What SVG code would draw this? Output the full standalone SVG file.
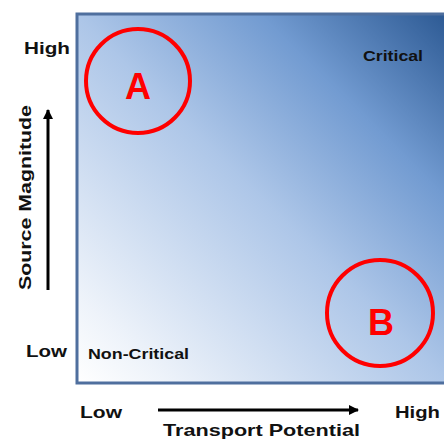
<svg xmlns="http://www.w3.org/2000/svg" width="444" height="439" viewBox="0 0 444 439">
<defs>
<linearGradient id="bg" gradientUnits="userSpaceOnUse" x1="78" y1="383" x2="444" y2="13">
<stop offset="0" stop-color="#ffffff"/>
<stop offset="0.12" stop-color="#eef3fa"/>
<stop offset="0.5" stop-color="#adc6e8"/>
<stop offset="0.75" stop-color="#729bd1"/>
<stop offset="1" stop-color="#2d5a94"/>
</linearGradient>
<marker id="ah" viewBox="0 0 10 10" refX="9" refY="5" markerWidth="10" markerHeight="10" markerUnits="userSpaceOnUse" orient="auto">
<path d="M0,0 L10,5 L0,10 z" fill="#000"/>
</marker>
<style>
.lbl{font-family:"Liberation Sans",Arial,sans-serif;font-weight:bold;fill:#111;}
.big{font-size:17px;}
.sm{font-size:14px;}
.ring{fill:none;stroke:#ff0000;stroke-width:4;}
.letter{font-family:"Liberation Sans",Arial,sans-serif;font-weight:bold;font-size:36px;fill:#ff0000;text-anchor:middle;}
.axis{stroke:#000;stroke-width:3;fill:none;}
</style>
</defs>
<rect width="444" height="439" fill="#fff"/>
<g id="plot">
<rect x="77" y="14" width="380" height="369" fill="url(#bg)" stroke="#4f6f9e" stroke-width="3"/>
</g>
<g id="connectors">
<line class="axis" x1="48" y1="290" x2="48" y2="110" marker-end="url(#ah)"/>
<line class="axis" x1="158" y1="410" x2="358" y2="410" marker-end="url(#ah)"/>
</g>
<g id="nodeA">
<circle class="ring" cx="138" cy="81" r="52"/>
<text class="letter" x="138" y="99">A</text>
</g>
<g id="nodeB">
<circle class="ring" cx="380" cy="313" r="53"/>
<text class="letter" x="381" y="335">B</text>
</g>
<g id="labels">
<text class="lbl big" x="24" y="54" textLength="46" lengthAdjust="spacingAndGlyphs">High</text>
<text class="lbl big" x="26" y="357" textLength="41" lengthAdjust="spacingAndGlyphs">Low</text>
<text class="lbl big" x="80" y="418" textLength="42" lengthAdjust="spacingAndGlyphs">Low</text>
<text class="lbl big" x="395" y="418" textLength="45" lengthAdjust="spacingAndGlyphs">High</text>
<text class="lbl big" x="163" y="436" textLength="197" lengthAdjust="spacingAndGlyphs">Transport Potential</text>
<text class="lbl big" transform="translate(31,290) rotate(-90)" x="0" y="0" textLength="185" lengthAdjust="spacingAndGlyphs">Source Magnitude</text>
<text class="lbl sm" x="363" y="61" textLength="60" lengthAdjust="spacingAndGlyphs">Critical</text>
<text class="lbl sm" x="88" y="359" textLength="101" lengthAdjust="spacingAndGlyphs">Non-Critical</text>
</g>
</svg>
